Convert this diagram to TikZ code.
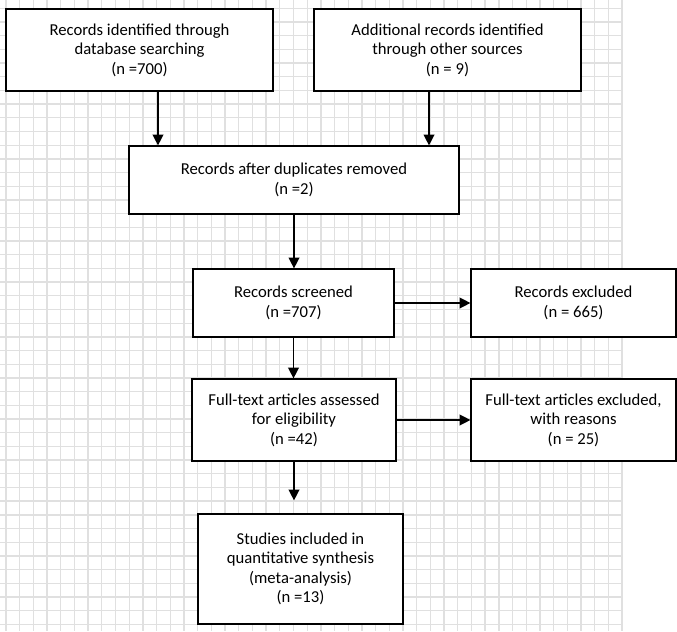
\documentclass[tikz,border=0pt]{standalone}
\usepackage{fontspec}
\setmainfont{Carlito}
\usetikzlibrary{arrows.meta}
\definecolor{gridgray}{HTML}{E0E0E0}
\begin{document}
\begin{tikzpicture}[x=0.75pt,y=-0.75pt,
  box/.style={draw=black,line width=0.9pt,fill=white,align=center,inner sep=0pt,
    font=\fontsize{12.5}{14.6}\selectfont},
  arr/.style={line width=1pt,-{Triangle[length=8pt,width=8pt]}},
  gridline/.style={gridgray,line width=1pt}]
\useasboundingbox (0,0) rectangle (677,631);
\fill[white] (0,0) rectangle (677,631);
\foreach \i in {0,...,45} {
  \draw[gridline] ({6+13.69*\i},0) -- ({6+13.69*\i},631);
  \draw[gridline] (0,{8.3+13.69*\i}) -- (622,{8.3+13.69*\i});
}
\node[box, minimum width=200.25pt, minimum height=61.5pt] (b1) at (139.5,50)
  {Records identified through\\database searching\\(n =700)};
\node[box, minimum width=200.25pt, minimum height=61.5pt] (b2) at (447.5,50)
  {Additional records identified\\through other sources\\(n = 9)};
\node[box, minimum width=247.5pt, minimum height=51pt] (b3) at (294,180)
  {Records after duplicates removed\\(n =2)};
\node[box, minimum width=150.75pt, minimum height=51pt] (b4) at (293.5,303)
  {Records screened\\(n =707)};
\node[box, minimum width=153.75pt, minimum height=51pt] (b5) at (573.5,303)
  {Records excluded\\(n = 665)};
\node[box, minimum width=153pt, minimum height=61.5pt] (b6) at (294,420)
  {Full-text articles assessed\\for eligibility\\(n =42)};
\node[box, minimum width=153.75pt, minimum height=61.5pt] (b7) at (573.5,420)
  {Full-text articles excluded,\\with reasons\\(n = 25)};
\node[box, minimum width=153.75pt, minimum height=82.5pt] (b8) at (300.5,569)
  {Studies included in\\quantitative synthesis\\(meta-analysis)\\(n =13)};
\draw[arr] ([xshift=13.875pt]b1.south) -- ([xshift=13.875pt]b1.south |- b3.north);
\draw[arr] ([xshift=-13.875pt]b2.south) -- ([xshift=-13.875pt]b2.south |- b3.north);
\draw[arr] (b3.south) -- (b3.south |- b4.north);
\draw[arr] (b4.east) -- (b5.west);
\draw[arr] (b4.south) -- (b4.south |- b6.north);
\draw[arr] (b6.east) -- (b7.west);
\draw[arr, shorten >=9.75pt] (b6.south) -- (b6.south |- b8.north);
\end{tikzpicture}
\end{document}
